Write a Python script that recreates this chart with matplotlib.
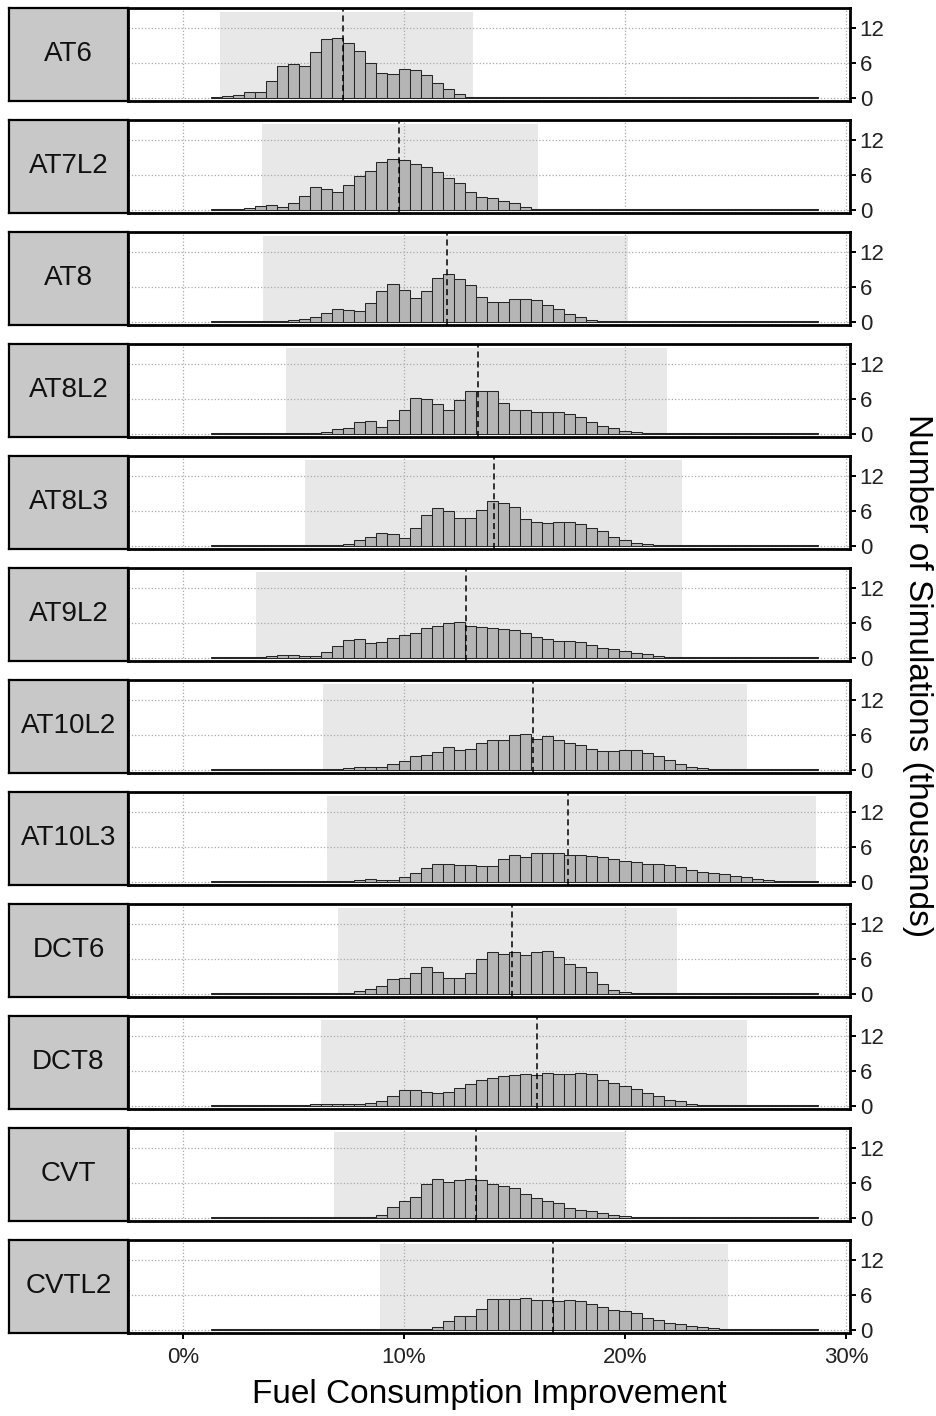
import matplotlib
matplotlib.use('Agg')
import matplotlib.pyplot as plt
import numpy as np

plt.rcParams['font.family'] = ['Liberation Sans', 'DejaVu Sans']

# histogram bin centres, % fuel consumption improvement (bins are 0.5 wide)
bin_centers = np.arange(1.5, 28.51, 0.5)

transmissions = ['AT6', 'AT7L2', 'AT8', 'AT8L2', 'AT8L3', 'AT9L2',
                 'AT10L2', 'AT10L3', 'DCT6', 'DCT8', 'CVT', 'CVTL2']

# counts per bin, thousands of simulations
at6 = [0.1, 0.2, 0.5, 0.9, 0.9, 2.8, 5.4, 5.7, 5.5, 7.8,
       10.1, 10.3, 9.4, 8.0, 6.0, 4.3, 4.0, 4.9, 4.8, 3.8,
       2.5, 1.5, 0.6, 0.15, 0.05, 0.05, 0.05, 0.05, 0.05, 0.05,
       0.05, 0.05, 0.05, 0.05, 0.05, 0.05, 0.05, 0.05, 0.05, 0.05,
       0.05, 0.05, 0.05, 0.05, 0.05, 0.05, 0.05, 0.05, 0.05, 0.05,
       0.05, 0.05, 0.05, 0.05, 0.05]
at7l2 = [0.05, 0.05, 0.1, 0.3, 0.6, 0.8, 0.5, 1.1, 2.3, 3.8,
         3.6, 3.1, 4.3, 5.7, 6.7, 8.1, 8.7, 8.6, 7.9, 7.4,
         6.5, 5.4, 4.5, 3.0, 2.2, 1.9, 1.4, 1.1, 0.5, 0.1,
         0.05, 0.05, 0.05, 0.05, 0.05, 0.05, 0.05, 0.05, 0.05, 0.05,
         0.05, 0.05, 0.05, 0.05, 0.05, 0.05, 0.05, 0.05, 0.05, 0.05,
         0.05, 0.05, 0.05, 0.05, 0.05]
at8 = [0.05, 0.05, 0.05, 0.05, 0.05, 0.05, 0.05, 0.2, 0.4, 0.8,
       1.4, 2.1, 2.0, 1.8, 3.2, 5.2, 6.5, 5.4, 4.0, 5.2,
       7.5, 8.2, 7.3, 6.3, 4.2, 3.4, 3.4, 3.8, 3.9, 3.7,
       2.9, 2.1, 1.3, 0.7, 0.3, 0.1, 0.05, 0.05, 0.05, 0.05,
       0.05, 0.05, 0.05, 0.05, 0.05, 0.05, 0.05, 0.05, 0.05, 0.05,
       0.05, 0.05, 0.05, 0.05, 0.05]
at8l2 = [0.05, 0.05, 0.05, 0.05, 0.05, 0.05, 0.05, 0.05, 0.05, 0.05,
         0.2, 0.7, 1.0, 1.9, 2.2, 1.2, 2.3, 4.1, 6.2, 6.0,
         5.1, 4.1, 5.7, 7.4, 7.3, 7.3, 5.3, 4.1, 4.0, 3.7,
         3.7, 3.7, 3.4, 2.8, 2.0, 1.3, 0.9, 0.5, 0.2, 0.1,
         0.05, 0.05, 0.05, 0.05, 0.05, 0.05, 0.05, 0.05, 0.05, 0.05,
         0.05, 0.05, 0.05, 0.05, 0.05]
at8l3 = [0.05, 0.05, 0.05, 0.05, 0.05, 0.05, 0.05, 0.05, 0.05, 0.05,
         0.05, 0.1, 0.3, 1.0, 1.4, 2.2, 1.9, 1.3, 3.0, 5.3,
         6.4, 5.9, 4.7, 4.7, 6.2, 7.6, 7.4, 6.6, 4.5, 4.1,
         3.9, 4.0, 4.0, 3.7, 3.1, 2.5, 1.5, 1.0, 0.5, 0.2,
         0.1, 0.05, 0.05, 0.05, 0.05, 0.05, 0.05, 0.05, 0.05, 0.05,
         0.05, 0.05, 0.05, 0.05, 0.05]
at9l2 = [0.05, 0.05, 0.05, 0.05, 0.1, 0.3, 0.5, 0.5, 0.3, 0.3,
         0.9, 1.9, 3.0, 3.2, 2.5, 2.6, 3.4, 3.9, 4.3, 5.0,
         5.5, 6.0, 6.2, 5.5, 5.2, 5.1, 4.9, 4.7, 4.3, 3.6,
         3.2, 2.9, 2.9, 2.7, 2.1, 1.7, 1.5, 1.1, 0.8, 0.6,
         0.3, 0.15, 0.05, 0.05, 0.05, 0.05, 0.05, 0.05, 0.05, 0.05,
         0.05, 0.05, 0.05, 0.05, 0.05]
at10l2 = [0.05, 0.05, 0.05, 0.05, 0.05, 0.05, 0.05, 0.05, 0.05, 0.05,
          0.05, 0.1, 0.3, 0.5, 0.5, 0.5, 1.0, 1.5, 2.3, 2.5,
          3.0, 3.8, 3.4, 3.5, 4.5, 5.0, 5.1, 6.0, 6.2, 5.3,
          5.7, 5.0, 4.5, 4.3, 3.6, 3.2, 3.2, 3.4, 3.3, 2.9,
          2.4, 1.7, 1.0, 0.5, 0.2, 0.05, 0.05, 0.05, 0.05, 0.05,
          0.05, 0.05, 0.05, 0.05, 0.05]
at10l3 = [0.05, 0.05, 0.05, 0.05, 0.05, 0.05, 0.05, 0.05, 0.05, 0.05,
          0.05, 0.05, 0.15, 0.3, 0.35, 0.3, 0.2, 0.7, 1.4, 2.4,
          3.0, 3.1, 2.9, 2.8, 2.7, 2.7, 3.9, 4.6, 4.3, 4.9,
          4.9, 4.9, 4.6, 4.6, 4.4, 4.2, 3.9, 3.6, 3.3, 3.1,
          3.0, 2.8, 2.5, 2.0, 1.7, 1.4, 1.3, 1.0, 0.7, 0.5,
          0.25, 0.1, 0.05, 0.05, 0.05]
dct6 = [0.05, 0.05, 0.05, 0.05, 0.05, 0.05, 0.05, 0.05, 0.05, 0.05,
        0.05, 0.05, 0.1, 0.35, 0.7, 1.3, 2.5, 2.7, 3.5, 4.5,
        3.7, 2.6, 2.6, 3.5, 5.9, 7.2, 6.8, 7.2, 6.7, 7.1,
        7.4, 6.3, 5.0, 4.5, 3.7, 1.7, 0.6, 0.3, 0.15, 0.05,
        0.05, 0.05, 0.05, 0.05, 0.05, 0.05, 0.05, 0.05, 0.05, 0.05,
        0.05, 0.05, 0.05, 0.05, 0.05]
dct8 = [0.05, 0.05, 0.05, 0.05, 0.05, 0.05, 0.05, 0.1, 0.15, 0.3,
        0.3, 0.3, 0.3, 0.3, 0.4, 0.75, 1.7, 2.7, 2.6, 2.4,
        2.2, 2.4, 3.0, 3.7, 4.4, 4.7, 5.1, 5.3, 5.4, 5.3,
        5.6, 5.4, 5.4, 5.6, 5.4, 4.4, 3.8, 3.3, 2.9, 2.2,
        1.7, 1.0, 0.7, 0.3, 0.1, 0.05, 0.05, 0.05, 0.05, 0.05,
        0.05, 0.05, 0.05, 0.05, 0.05]
cvt = [0.05, 0.05, 0.05, 0.05, 0.05, 0.05, 0.05, 0.05, 0.05, 0.05,
       0.05, 0.05, 0.05, 0.05, 0.05, 0.4, 1.8, 2.9, 3.5, 5.8,
       6.6, 6.1, 6.5, 6.7, 6.5, 5.7, 5.4, 5.1, 4.0, 3.3,
       2.8, 2.5, 1.7, 1.3, 1.1, 0.7, 0.5, 0.2, 0.1, 0.05,
       0.05, 0.05, 0.05, 0.05, 0.05, 0.05, 0.05, 0.05, 0.05, 0.05,
       0.05, 0.05, 0.05, 0.05, 0.05]
cvtl2 = [0.05, 0.05, 0.05, 0.05, 0.05, 0.05, 0.05, 0.05, 0.05, 0.05,
         0.05, 0.05, 0.05, 0.05, 0.05, 0.05, 0.05, 0.05, 0.05, 0.1,
         0.35, 1.4, 2.3, 2.4, 3.5, 5.3, 5.3, 5.2, 5.5, 5.1,
         5.1, 4.9, 5.1, 4.9, 4.4, 3.8, 3.4, 3.2, 2.8, 2.0,
         1.6, 1.2, 0.9, 0.6, 0.45, 0.3, 0.15, 0.05, 0.05, 0.05,
         0.05, 0.05, 0.05, 0.05, 0.05]

counts = [at6, at7l2, at8, at8l2, at8l3, at9l2,
          at10l2, at10l3, dct6, dct8, cvt, cvtl2]

medians = [7.26, 9.79, 11.93, 13.33, 14.08, 12.82,
           15.84, 17.4, 14.88, 16.0, 13.24, 16.73]
range_low = [1.67, 3.56, 3.6, 4.65, 5.52, 3.29,
             6.33, 6.5, 6.99, 6.26, 6.81, 8.93]
range_high = [13.14, 16.07, 20.15, 21.9, 22.56, 22.56,
              25.5, 28.65, 22.36, 25.5, 20.05, 24.67]
range_top = 14.7

x_ticks = [0, 10, 20, 30]
x_tick_labels = ['0%', '10%', '20%', '30%']
y_ticks = [0, 6, 12]

W, H = 937, 1416
fig = plt.figure(figsize=(W / 100, H / 100), dpi=100)

left, right, box_left = 128, 850, 9
panel_h, step, top0 = 93.5, 112, 7.5

for i, name in enumerate(transmissions):
    top = top0 + step * i
    rect_y = 1 - (top + panel_h) / H

    # label strip on the left
    lab = fig.add_axes([box_left / W, rect_y, (left - box_left) / W, panel_h / H])
    lab.set_facecolor('#c8c8c8')
    lab.set_xticks([])
    lab.set_yticks([])
    for sp in lab.spines.values():
        sp.set_linewidth(1.6)
        sp.set_color('black')
    lab.text(0.5, 0.5, name, transform=lab.transAxes, ha='center', va='center',
             fontsize=20, color='#111111')

    ax = fig.add_axes([left / W, rect_y, (right - left) / W, panel_h / H])
    ax.set_xlim(-2.49, 30.18)
    ax.set_ylim(-0.6, 15.5)
    ax.set_axisbelow(True)
    ax.grid(True, linestyle=':', color='#aaaaaa', linewidth=0.9)

    ax.fill_between([range_low[i], range_high[i]], 0, range_top,
                    color='#e8e8e8', linewidth=0, zorder=0.3)
    ax.bar(bin_centers, counts[i], width=0.5, color='#b5b5b5',
           edgecolor='#262626', linewidth=0.75, zorder=2)
    ax.axvline(medians[i], color='black', linestyle=(0, (4, 2.5)),
               linewidth=1.1, zorder=3)

    for sp in ax.spines.values():
        sp.set_linewidth(2.0)
        sp.set_color('black')

    ax.yaxis.tick_right()
    ax.set_yticks(y_ticks)
    ax.tick_params(axis='y', labelsize=16, length=4, width=1.4, pad=3,
                   labelcolor='#222222')
    ax.set_xticks(x_ticks)
    if i == len(transmissions) - 1:
        ax.set_xticklabels(x_tick_labels)
        ax.tick_params(axis='x', labelsize=16, length=4, width=1.4, pad=6,
                       labelcolor='#222222')
    else:
        ax.tick_params(axis='x', length=0, labelbottom=False)

fig.text(489 / W, 1 - 1394 / H, 'Fuel Consumption Improvement',
         ha='center', va='center', fontsize=24)
fig.text(918 / W, 1 - 676 / H, 'Number of Simulations (thousands)',
         ha='center', va='center', rotation=-90, fontsize=24)

fig.savefig('out.png', dpi=100)
